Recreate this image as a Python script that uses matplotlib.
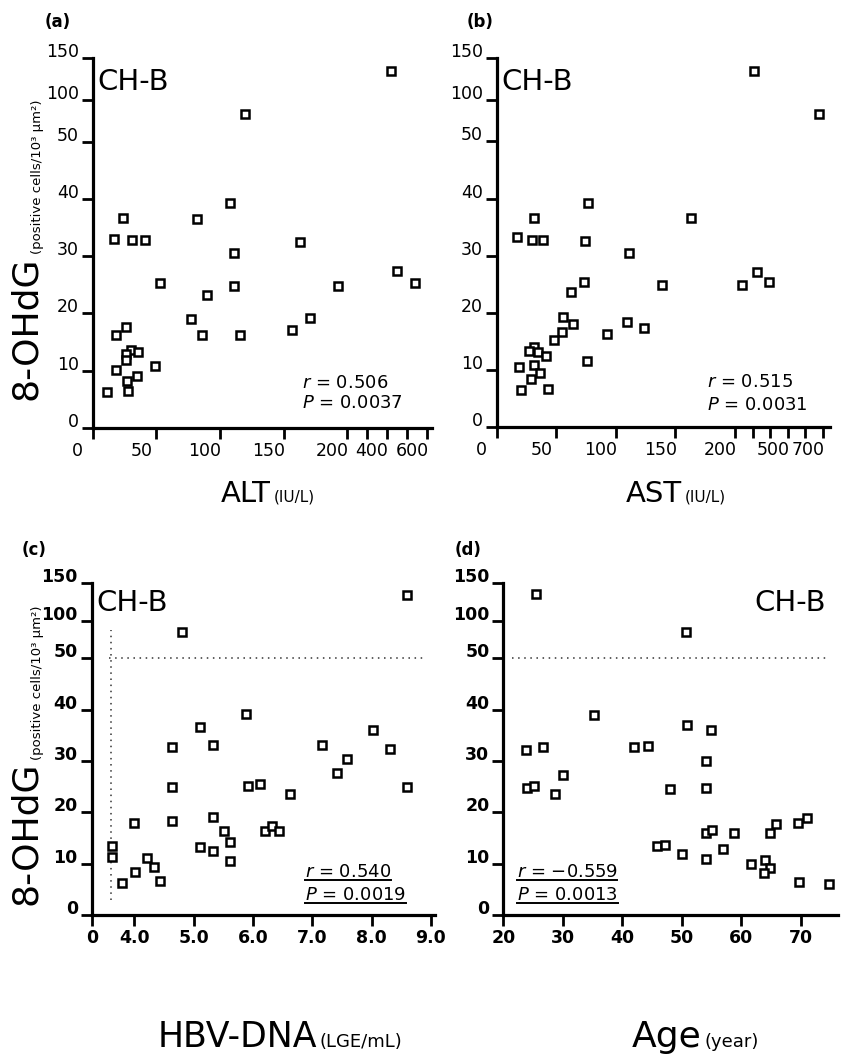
import numpy as np
import matplotlib
matplotlib.use('Agg')
import matplotlib.pyplot as plt
from matplotlib.transforms import ScaledTranslation
from matplotlib.lines import Line2D

plt.rcParams['font.family'] = ['DejaVu Sans']
plt.rcParams['mathtext.fontset'] = 'dejavusans'

###=========== data ===========
alt = [420, 120, 108, 24, 82, 17, 31, 41, 163, 111, 450, 540, 53, 111, 193, 90, 77,
       171, 157, 26, 18, 86, 116, 30, 36, 26, 26, 49, 18, 35, 27, 28, 11]
ohdg_alt = [134, 83, 39.3, 36.6, 36.5, 33, 32.8, 32.8, 32.5, 30.5, 27.4, 25.3, 25.3,
            24.8, 24.8, 23.2, 19, 19.2, 17.1, 17.6, 16.2, 16.2, 16.2, 13.6, 13.2, 13,
            11.8, 10.8, 10.1, 9.1, 8.2, 6.5, 6.3]

ast = [308, 677, 77, 31, 163, 17, 30, 39, 74, 111, 327, 241, 391, 139, 73, 62, 56,
       64, 109, 124, 93, 55, 48, 31, 27, 35, 41, 19, 31, 76, 36, 29, 20, 43]
ohdg_ast = [135, 83, 39.3, 36.6, 36.6, 33.3, 32.8, 32.8, 32.5, 30.4, 27.2, 24.8, 25.3,
            24.8, 25.3, 23.7, 19.2, 18.1, 18.3, 17.3, 16.2, 16.6, 15.2, 14, 13.3, 13.1,
            12.4, 10.5, 10.8, 11.5, 9.4, 8.4, 6.5, 6.6]

hbv = [8.59, 4.81, 5.89, 5.11, 8.02, 4.63, 5.33, 7.17, 8.31, 7.58, 7.41, 4.63, 5.91,
       6.12, 6.62, 8.6, 4.63, 4.0, 5.33, 5.52, 5.61, 6.21, 6.33, 6.44, 5.11, 5.33,
       5.61, 3.62, 3.62, 4.21, 4.33, 4.01, 3.80, 4.44]
ohdg_hbv = [134.7, 85.6, 39.2, 36.7, 36.1, 32.8, 33.2, 33.2, 32.4, 30.3, 27.7, 24.9,
            25.1, 25.6, 23.5, 24.9, 18.3, 18, 19.1, 16.4, 14.2, 16.4, 17.3, 16.4, 13.3,
            12.5, 10.5, 13.5, 11.2, 11.1, 9.4, 8.4, 6.2, 6.7]

age = [25.5, 50.7, 35.3, 50.9, 54.9, 23.9, 26.7, 42, 44.4, 54.1, 30, 24, 25.2, 28.7,
       48.1, 54.1, 54.1, 55.1, 58.8, 64.8, 65.9, 69.6, 71.1, 45.9, 47.2, 50.1, 57,
       54.1, 61.7, 64.1, 64.9, 63.9, 69.8, 74.8]
ohdg_age = [135.6, 85.6, 39, 37.1, 36.1, 32.2, 32.7, 32.7, 33, 30, 27.2, 24.7, 25.1,
            23.5, 24.6, 24.7, 16, 16.6, 16, 15.9, 17.7, 17.9, 18.8, 13.4, 13.7, 11.9,
            12.8, 11, 10, 10.7, 9.1, 8.1, 6.4, 6]

y_ticks = [0, 10, 20, 30, 40, 50, 100, 150]
alt_ticks = [0, 50, 100, 150, 200, 300, 400, 500, 600]
alt_labels = ['0', '50', '100', '150', '200', '', '400', '', '600']
ast_ticks = [0, 50, 100, 150, 200, 300, 400, 500, 600, 700]
ast_labels = ['0', '50', '100', '150', '200', '', '', '500', '', '700']
hbv_ticks = [4, 5, 6, 7, 8, 9]
age_ticks = [20, 30, 40, 50, 60, 70]

stats = {'a': ('$r$ = 0.506', '$P$ = 0.0037'),
         'b': ('$r$ = 0.515', '$P$ = 0.0031'),
         'c': ('$r$ = 0.540', '$P$ = 0.0019'),
         'd': ('$r$ = \u22120.559', '$P$ = 0.0013')}
cutoff_ohdg = 50
cutoff_dna = 3.6

W, H = 841, 1054
fig = plt.figure(figsize=(W / 100, H / 100), dpi=100)
fig.patch.set_facecolor('white')


def broken(v0, k):
    # linear up to v0, compressed by k above it
    def fwd(v):
        v = np.asarray(v, float)
        return np.where(v <= v0, v, v0 + (v - v0) * k)

    def inv(p):
        p = np.asarray(p, float)
        return np.where(p <= v0, p, v0 + (p - v0) / k)
    return fwd, inv


def panel(rect, x, y, bold=False):
    ax = fig.add_axes(rect)
    ax.set_yscale('function', functions=broken(50, 0.146))
    ax.set_ylim(0, 150)
    ax.set_yticks(y_ticks)
    ax.set_yticklabels([str(t) for t in y_ticks])
    ax.plot(x, y, ls='none', marker='s', ms=5.9, mfc='white', mec='black',
            mew=1.8, zorder=5, clip_on=False)
    for s in ['top', 'right']:
        ax.spines[s].set_visible(False)
    for s in ['left', 'bottom']:
        ax.spines[s].set_linewidth(2.3)
    ax.tick_params(direction='out', length=8, width=2, labelsize=12.5, pad=2)
    wt = 'bold' if bold else 'normal'
    up = ScaledTranslation(0, 0.08, fig.dpi_scale_trans)
    for lab in ax.get_yticklabels():
        lab.set_fontweight(wt)
        lab.set_transform(lab.get_transform() + up)
    return ax


def shift_x(ax, dx, bold=False):
    off = ScaledTranslation(dx / 100, 0, fig.dpi_scale_trans)
    for lab in ax.get_xticklabels():
        lab.set_fontweight('bold' if bold else 'normal')
        lab.set_transform(lab.get_transform() + off)


###=========== (a) ALT ===========
axa = panel([92.7 / W, 626 / H, 339.3 / W, 370 / H], alt, ohdg_alt)
axa.set_xscale('function', functions=broken(200, 0.157))
axa.set_xlim(0, 625)
axa.set_xticks(alt_ticks)
axa.set_xticklabels(alt_labels)
shift_x(axa, -15)

###=========== (b) AST ===========
axb = panel([496.7 / W, 627 / H, 333.3 / W, 369 / H], ast, ohdg_ast)
axb.set_xscale('function', functions=broken(200, 0.1477))
axb.set_xlim(0, 740)
axb.set_xticks(ast_ticks)
axb.set_xticklabels(ast_labels)
shift_x(axb, -15)

###=========== (c) HBV-DNA ===========
axc = panel([91.7 / W, 139 / H, 343.3 / W, 331.7 / H], hbv, ohdg_hbv, bold=True)
x0 = 3.282
axc.set_xlim(x0, 9.07)
axc.set_xticks([x0] + hbv_ticks)
axc.set_xticklabels(['0'] + ['%.1f' % t for t in hbv_ticks])
shift_x(axc, 0, bold=True)
axc.axhline(cutoff_ohdg, xmin=0.05, xmax=0.97, color='#333333', lw=1.1,
            ls=(0, (1, 3)), zorder=2)
axc.vlines(cutoff_dna, 3, 88, color='#333333', lw=1.1, linestyles=[(0, (1, 3))], zorder=2)

###=========== (d) Age ===========
axd = panel([503.3 / W, 139 / H, 334.7 / W, 331.7 / H], age, ohdg_age, bold=True)
axd.set_xlim(20, 76.3)
axd.set_xticks(age_ticks)
axd.set_xticklabels([str(t) for t in age_ticks])
shift_x(axd, 0, bold=True)
axd.axhline(cutoff_ohdg, xmin=0.025, xmax=0.965, color='#333333', lw=1.1,
            ls=(0, (1, 3)), zorder=2)

###=========== texts ===========
axa.text(0.015, 0.935, 'CH-B', transform=axa.transAxes, fontsize=21, va='center')
axb.text(0.015, 0.935, 'CH-B', transform=axb.transAxes, fontsize=21, va='center')
axc.text(0.015, 0.94, 'CH-B', transform=axc.transAxes, fontsize=21, va='center')
axd.text(0.965, 0.94, 'CH-B', transform=axd.transAxes, fontsize=21, va='center', ha='right')

rp = {}
for key, ax, xx, y1, y2 in [('a', axa, 0.617, 0.108, 0.054), ('b', axb, 0.631, 0.108, 0.045),
                            ('c', axc, 0.621, 0.115, 0.045), ('d', axd, 0.041, 0.115, 0.045)]:
    t1 = ax.text(xx, y1, stats[key][0], transform=ax.transAxes, fontsize=13, va='baseline')
    t2 = ax.text(xx, y2, stats[key][1], transform=ax.transAxes, fontsize=13, va='baseline')
    rp[key] = (t1, t2)

for lab, x, y in [('(a)', 45, 22), ('(b)', 467, 22), ('(c)', 22, 550), ('(d)', 455, 550)]:
    fig.text(x / W, 1 - y / H, lab, fontsize=12, fontweight='bold', va='center')

fig.canvas.draw()
r = fig.canvas.get_renderer()


def two_part(xc, yb, big, small, bsize, ssize, rot=0, gap=3, drop=0):
    if rot == 0:
        t1 = fig.text(0, 0, big, fontsize=bsize, ha='left', va='baseline')
        t2 = fig.text(0, 0, small, fontsize=ssize, ha='left', va='baseline')
        w1 = t1.get_window_extent(r).width
        w2 = t2.get_window_extent(r).width
        xs = xc - (w1 + gap + w2) / 2
        t1.set_position((xs / W, 1 - yb / H))
        t2.set_position(((xs + w1 + gap) / W, 1 - yb / H))
    else:
        t1 = fig.text(xc / W, 1 - yb / H, big, fontsize=bsize, rotation=90,
                      rotation_mode='anchor', ha='left', va='baseline')
        h1 = t1.get_window_extent(r).height
        fig.text((xc + drop) / W, 1 - (yb - h1 - gap) / H, small, fontsize=ssize,
                 rotation=90, rotation_mode='anchor', ha='left', va='baseline')


two_part(268, 502, 'ALT', '(IU/L)', 21, 11)
two_part(676, 502, 'AST', '(IU/L)', 21, 11)
two_part(280, 1047, 'HBV-DNA', '(LGE/mL)', 25, 13)
two_part(695, 1047, 'Age', '(year)', 26, 13)
ylab_small = '(positive cells/10\u00b3 \u03bcm\u00b2)'
two_part(36, 400, '8-OHdG', ylab_small, 26, 9.5, rot=90, gap=2, drop=5)
two_part(36, 905, '8-OHdG', ylab_small, 26, 9.5, rot=90, gap=2, drop=5)

# underline the statistics of (c) and (d)
for key in ['c', 'd']:
    for t in rp[key]:
        bb = t.get_window_extent(r)
        fig.add_artist(Line2D([bb.x0 / W, bb.x1 / W], [(bb.y0 + 1) / H] * 2,
                              transform=fig.transFigure, color='black', lw=1.4))

plt.savefig('out.png', dpi=100, facecolor='white')
